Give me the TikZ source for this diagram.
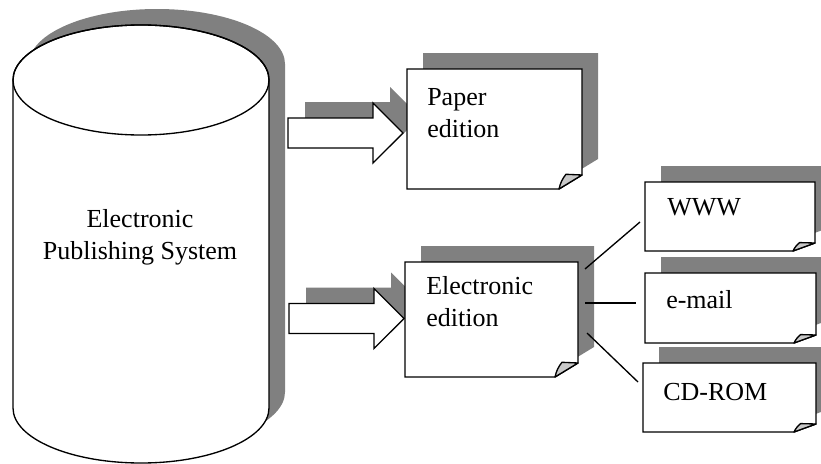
\documentclass[tikz,border=0pt]{standalone}
\usepackage{fontspec}
\setmainfont{Liberation Serif}
\usetikzlibrary{calc}
\definecolor{shadowgray}{HTML}{808080}
\definecolor{flapgray}{HTML}{C8C8C8}
\pgfdeclarelayer{shadow}
\pgfdeclarelayer{body}
\pgfsetlayers{shadow,body,main}
\tikzset{
  outline/.style={draw=black, line width=1pt, line join=miter},
  boxnode/.style={rectangle, draw=none, inner sep=0pt, outer sep=0pt, anchor=north west},
  doctext/.style={anchor=base west, inner sep=0pt, align=left, font=\fontsize{19.5}{24}\selectfont},
  connector/.style={draw=black, line width=1pt},
}
% #1 name, #2 x, #3 y, #4 w, #5 h, #6 fold cut x, #7 fold cut y
\newcommand\docbox[7]{%
  \node[boxnode, minimum width=#4*0.75pt, minimum height=#5*0.75pt] (#1) at (#2,#3) {};
  \begin{pgfonlayer}{shadow}
    \fill[shadowgray] ($(#1.north west)+(16,-16)$) -- ($(#1.north east)+(16,-16)$)
      -- ($(#1.south east)+(16,{-16-#7})$) -- ($(#1.south east)+({16-#6},-16)$)
      -- ($(#1.south west)+(16,-16)$) -- cycle;
  \end{pgfonlayer}
  \begin{pgfonlayer}{body}
    \filldraw[outline, fill=white] (#1.north west) -- (#1.north east)
      -- ($(#1.south east)+(0,-#7)$) -- ($(#1.south east)+(-#6,0)$)
      -- (#1.south west) -- cycle;
    \filldraw[outline, fill=flapgray, line join=round] ($(#1.south east)+(-#6,0)$)
      to[bend left=12] ($(#1.south east)+({-0.7*#6},{-1.05*#7})$)
      -- ($(#1.south east)+(0,-#7)$) -- cycle;
  \end{pgfonlayer}}
% #1 target node, #2 #3 tip offset
\newcommand\blockarrow[3]{%
  \coordinate (#1-tip) at ($(#1.west)+(#2,#3)$);
  \begin{pgfonlayer}{shadow}
    \fill[shadowgray] ($(#1-tip)+(17,-16)$) -- ++(-30,-30) -- ++(0,15) -- ++(-85,0)
      -- ++(0,30) -- ++(85,0) -- ++(0,15) -- cycle;
  \end{pgfonlayer}
  \begin{pgfonlayer}{body}
    \filldraw[outline, fill=white] (#1-tip) -- ++(-30,-30) -- ++(0,15) -- ++(-85,0)
      -- ++(0,30) -- ++(85,0) -- ++(0,15) -- cycle;
  \end{pgfonlayer}}
\begin{document}
\begin{tikzpicture}[x=0.75pt, y=-0.75pt]
\useasboundingbox (0,0) rectangle (821,464);
% cylinder
\begin{pgfonlayer}{shadow}
  \fill[shadowgray] (29,64) -- (29,392)
    arc[start angle=180, end angle=0, x radius=128, y radius=55]
    -- (285,64) arc[start angle=360, end angle=180, x radius=128, y radius=55] -- cycle;
\end{pgfonlayer}
\begin{pgfonlayer}{body}
  \filldraw[outline, fill=white] (13,80) -- (13,408)
    arc[start angle=180, end angle=0, x radius=128, y radius=55]
    -- (269,80) arc[start angle=360, end angle=180, x radius=128, y radius=55] -- cycle;
  \draw[outline] (141,80) ellipse[x radius=128, y radius=55];
\end{pgfonlayer}
\node[align=center, inner sep=0pt, font=\fontsize{19.5}{24}\selectfont] (eps) at (140,237) {Electronic\\Publishing System};
% documents
\docbox{paper}{407}{69}{175}{120}{23}{14}
\docbox{ee}{405}{262}{173}{115}{23}{14}
\docbox{www}{645}{182}{170}{69}{22}{8}
\docbox{email}{645}{273}{171}{70}{22}{8}
\docbox{cd}{643}{363}{173}{69}{22}{8}
\node[doctext] (paper-t) at ($(paper.north west)+(20,68)$) {Paper\\edition};
\node[doctext] (ee-t) at ($(ee.north west)+(21,64)$) {Electronic\\edition};
\node[doctext] (www-t) at ($(www.north west)+(22,33)$) {WWW};
\node[doctext] (email-t) at ($(email.north west)+(21,35)$) {e-mail};
\node[doctext] (cd-t) at ($(cd.north west)+(20,37)$) {CD-ROM};
% block arrows
\blockarrow{paper}{-4}{4}
\blockarrow{ee}{-1}{-1}
% connectors
\draw[connector] ($(ee.north east)+(7,7)$) -- ($(www.north west)+(-5,40)$);
\draw[connector] ($(ee.north east)+(7,41)$) -- ($(email.north west)+(-9,30)$);
\draw[connector] ($(ee.north east)+(9,71)$) -- ($(cd.north west)+(-5,19)$);
\end{tikzpicture}
\end{document}
